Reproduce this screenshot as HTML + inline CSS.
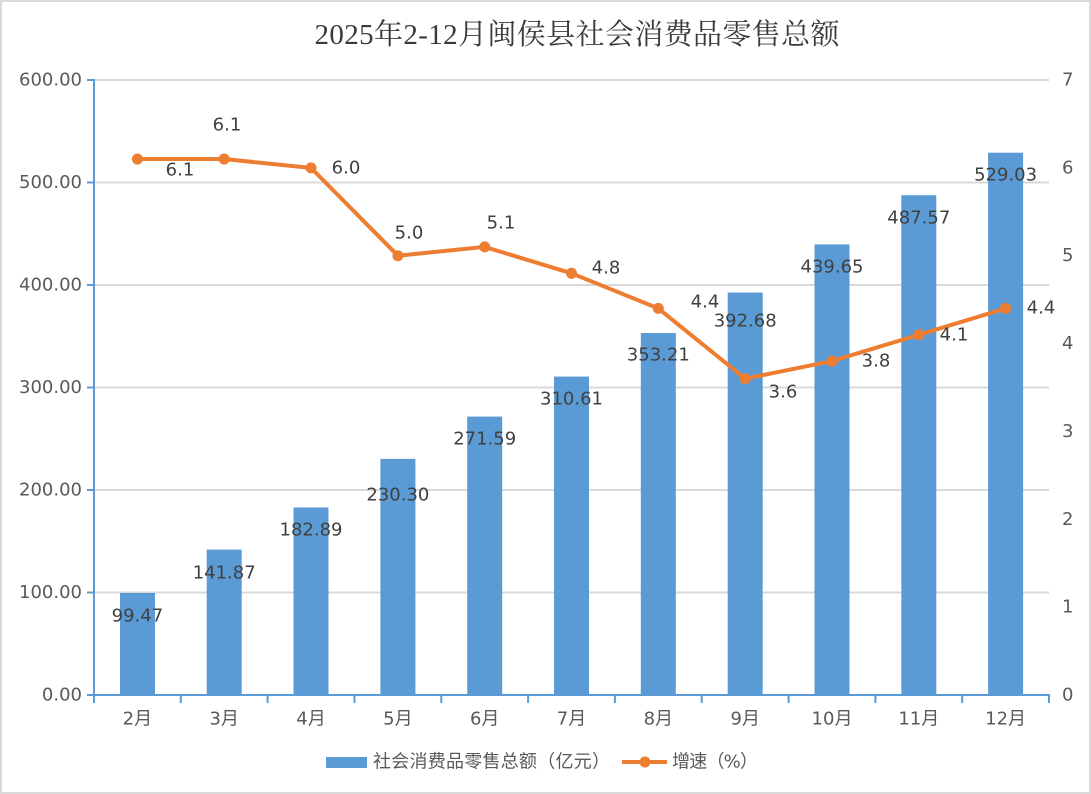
<!DOCTYPE html>
<html><head><meta charset="utf-8"><style>
html,body{margin:0;padding:0;background:#fff;}
svg{display:block;}
</style></head><body>
<svg width="1091" height="794" viewBox="0 0 1091 794" xmlns="http://www.w3.org/2000/svg">
<rect x="1" y="1" width="1089" height="792" fill="#fff" stroke="#d9d9d9" stroke-width="2"/>
<text x="577" y="35" text-anchor="middle" dominant-baseline="central" font-family="'Liberation Serif','Noto Serif CJK SC',serif" font-size="29" fill="#3a3a3a" textLength="525" lengthAdjust="spacing">2025年2-12月闽侯县社会消费品零售总额</text>
<g stroke="#d9d9d9" stroke-width="2">
<line x1="94" y1="80" x2="1049" y2="80"/>
<line x1="94" y1="182.5" x2="1049" y2="182.5"/>
<line x1="94" y1="285" x2="1049" y2="285"/>
<line x1="94" y1="387.5" x2="1049" y2="387.5"/>
<line x1="94" y1="490" x2="1049" y2="490"/>
<line x1="94" y1="592.5" x2="1049" y2="592.5"/>
</g>
<g fill="#5b9bd5">
<rect x="120" y="593" width="35" height="102"/>
<rect x="206.7" y="549.6" width="35" height="145.4"/>
<rect x="293.5" y="507.5" width="35" height="187.5"/>
<rect x="380.4" y="458.9" width="35" height="236.1"/>
<rect x="467.2" y="416.6" width="35" height="278.4"/>
<rect x="554" y="376.6" width="35" height="318.4"/>
<rect x="640.8" y="333" width="35" height="362"/>
<rect x="727.7" y="292.5" width="35" height="402.5"/>
<rect x="814.5" y="244.4" width="35" height="450.6"/>
<rect x="901.3" y="195.2" width="35" height="499.8"/>
<rect x="988.1" y="152.7" width="35" height="542.3"/>
</g>
<g stroke="#5b9bd5" stroke-width="2">
<line x1="94" y1="79" x2="94" y2="696"/>
<line x1="93" y1="695" x2="1050" y2="695"/>
<line x1="87" y1="80" x2="94" y2="80"/>
<line x1="87" y1="182.5" x2="94" y2="182.5"/>
<line x1="87" y1="285" x2="94" y2="285"/>
<line x1="87" y1="387.5" x2="94" y2="387.5"/>
<line x1="87" y1="490" x2="94" y2="490"/>
<line x1="87" y1="592.5" x2="94" y2="592.5"/>
<line x1="87" y1="695" x2="94" y2="695"/>
<line x1="94" y1="695" x2="94" y2="703"/>
<line x1="180.8" y1="695" x2="180.8" y2="703"/>
<line x1="267.6" y1="695" x2="267.6" y2="703"/>
<line x1="354.5" y1="695" x2="354.5" y2="703"/>
<line x1="441.3" y1="695" x2="441.3" y2="703"/>
<line x1="528.1" y1="695" x2="528.1" y2="703"/>
<line x1="614.9" y1="695" x2="614.9" y2="703"/>
<line x1="701.7" y1="695" x2="701.7" y2="703"/>
<line x1="788.6" y1="695" x2="788.6" y2="703"/>
<line x1="875.4" y1="695" x2="875.4" y2="703"/>
<line x1="962.2" y1="695" x2="962.2" y2="703"/>
<line x1="1049" y1="695" x2="1049" y2="703"/>
</g>
<g font-family="'DejaVu Sans','Noto Sans CJK SC',sans-serif" font-size="18" fill="#595959" dominant-baseline="central">
<g text-anchor="end">
<text x="82" y="80">600.00</text>
<text x="82" y="182.5">500.00</text>
<text x="82" y="285">400.00</text>
<text x="82" y="387.5">300.00</text>
<text x="82" y="490">200.00</text>
<text x="82" y="592.5">100.00</text>
<text x="82" y="695">0.00</text>
</g>
<g text-anchor="start">
<text x="1062" y="80">7</text>
<text x="1062" y="167.9">6</text>
<text x="1062" y="255.7">5</text>
<text x="1062" y="343.6">4</text>
<text x="1062" y="431.4">3</text>
<text x="1062" y="519.3">2</text>
<text x="1062" y="607.1">1</text>
<text x="1062" y="695">0</text>
</g>
<g text-anchor="middle">
<text x="137.4" y="719">2月</text>
<text x="224.2" y="719">3月</text>
<text x="311" y="719">4月</text>
<text x="397.9" y="719">5月</text>
<text x="484.7" y="719">6月</text>
<text x="571.5" y="719">7月</text>
<text x="658.3" y="719">8月</text>
<text x="745.2" y="719">9月</text>
<text x="832" y="719">10月</text>
<text x="918.8" y="719">11月</text>
<text x="1005.6" y="719">12月</text>
</g>
</g>
<polyline fill="none" stroke="#ed7d31" stroke-width="4" stroke-linejoin="round" points="137.4,159.05 224.2,159.05 311,167.9 397.9,255.7 484.7,246.9 571.5,273.3 658.3,308.4 745.2,378.7 832,361.1 918.8,334.8 1005.6,308.4"/>
<g fill="#ed7d31">
<circle cx="137.4" cy="159.05" r="5.5"/>
<circle cx="224.2" cy="159.05" r="5.5"/>
<circle cx="311" cy="167.9" r="5.5"/>
<circle cx="397.9" cy="255.7" r="5.5"/>
<circle cx="484.7" cy="246.9" r="5.5"/>
<circle cx="571.5" cy="273.3" r="5.5"/>
<circle cx="658.3" cy="308.4" r="5.5"/>
<circle cx="745.2" cy="378.7" r="5.5"/>
<circle cx="832" cy="361.1" r="5.5"/>
<circle cx="918.8" cy="334.8" r="5.5"/>
<circle cx="1005.6" cy="308.4" r="5.5"/>
</g>
<g font-family="'DejaVu Sans',sans-serif" font-size="18" fill="#404040" text-anchor="middle" dominant-baseline="central">
<text x="137.4" y="616">99.47</text>
<text x="224.2" y="573">141.87</text>
<text x="311" y="530">182.89</text>
<text x="397.9" y="495">230.30</text>
<text x="484.7" y="439">271.59</text>
<text x="571.5" y="399">310.61</text>
<text x="658.3" y="355">353.21</text>
<text x="745.2" y="321">392.68</text>
<text x="832" y="267">439.65</text>
<text x="918.8" y="218">487.57</text>
<text x="1005.6" y="175">529.03</text>
<text x="180" y="170">6.1</text>
<text x="227" y="125">6.1</text>
<text x="346" y="168">6.0</text>
<text x="409" y="233">5.0</text>
<text x="501" y="223">5.1</text>
<text x="606" y="268">4.8</text>
<text x="705" y="302">4.4</text>
<text x="783" y="392">3.6</text>
<text x="876" y="361">3.8</text>
<text x="954" y="335">4.1</text>
<text x="1041" y="308">4.4</text>
</g>
<rect x="326" y="757" width="41" height="11" fill="#5b9bd5"/>
<line x1="622" y1="762" x2="667" y2="762" stroke="#ed7d31" stroke-width="4"/>
<circle cx="645" cy="762" r="5.5" fill="#ed7d31"/>
<g font-family="'DejaVu Sans','Noto Sans CJK SC',sans-serif" font-size="18" fill="#595959" dominant-baseline="central">
<text x="373" y="762" textLength="237" lengthAdjust="spacing">社会消费品零售总额（亿元）</text>
<text x="672" y="762" textLength="86" lengthAdjust="spacing">增速（%）</text>
</g>
</svg>
</body></html>
